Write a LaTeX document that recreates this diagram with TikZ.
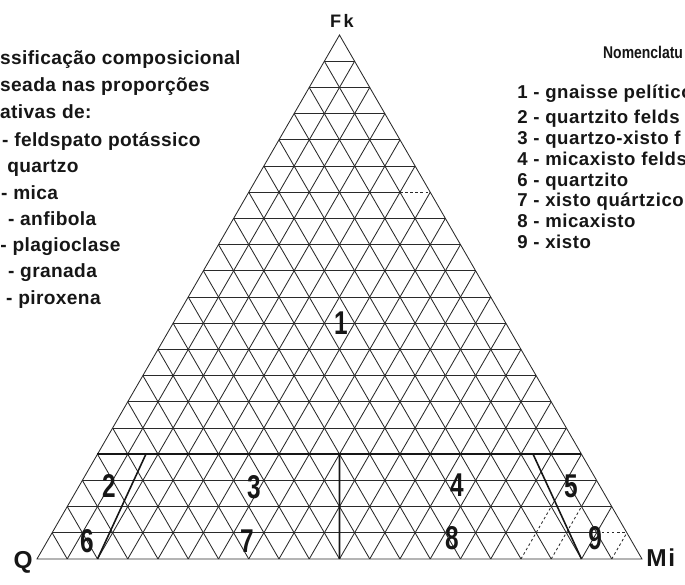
\documentclass[tikz,border=0pt]{standalone}
\usepackage{fontspec}
\setmainfont{Liberation Sans}
\newfontfamily\legsans[LetterSpace=2]{Liberation Sans}
\newfontfamily\listsans[LetterSpace=3]{Liberation Sans}
\newfontfamily\narrowsans[FakeStretch=0.74]{Liberation Sans}
\newfontfamily\tagsans[FakeStretch=0.82]{Liberation Sans}
\usetikzlibrary{calc}
\definecolor{ink}{HTML}{161616}
\definecolor{gridink}{HTML}{2A2A2A}
\tikzset{
  gridline/.style={draw=gridink, line width=0.8pt},
  gridfaint/.style={gridline, dash pattern=on 2.4pt off 2.4pt},
  fieldline/.style={draw=ink, line width=1.5pt},
  %
  fieldnum/.style={font=\narrowsans\bfseries\fontsize{31}{31}\selectfont,
                   text=ink, inner sep=0pt},
  corner/.style={font=\bfseries\fontsize{23}{23}\selectfont, text=ink, inner sep=0pt},
  legend/.style={font=\legsans\bfseries\fontsize{18}{20}\selectfont, text=ink,
                 anchor=base west, inner sep=0pt},
  namelist/.style={legend, font=\listsans\bfseries\fontsize{17.5}{20}\selectfont},
  heading/.style={font=\tagsans\bfseries\fontsize{16}{16}\selectfont, text=ink,
                  anchor=base west, inner sep=0pt},
}
\begin{document}
\begin{tikzpicture}[x=1cm, y=1cm]
  \useasboundingbox (-1.223,-0.860) rectangle (21.422,18.479);
  \clip (-1.223,-0.860) rectangle (21.422,18.479);

  % --- corners ------------------------------------------------------------
  \coordinate (Q)  at (0,0);
  \coordinate (Mi) at (20,0);
  \coordinate (Fk) at (10,17.3205);

  % --- 5% grid ------------------------------------------------------------
  \foreach \k in {2,...,13,15,16,17,18,19}
    \draw[gridline] ({\k/2},{\k*0.8660254}) -- ({20-\k/2},{\k*0.8660254});
  \draw[gridline]  (0.5,0.8660254) -- (18.5,0.8660254);
  \draw[gridfaint] (18.5,0.8660254) -- (19.5,0.8660254);
  \draw[gridline]  (7,12.124356) -- (12,12.124356);
  \draw[gridfaint] (12,12.124356) -- (13,12.124356);

  \foreach \k in {1,...,19}
    \draw[gridline] (\k,0) -- ({\k/2},{\k*0.8660254});

  \foreach \k in {1,...,15,18}
    \draw[gridline] (\k,0) -- ({10+\k/2},{(20-\k)*0.8660254});
  \draw[gridfaint] (16,0) -- (17,1.7320508);
  \draw[gridline]  (17,1.7320508) -- (18,3.4641016);
  \draw[gridfaint] (17,0) -- (18,1.7320508);
  \draw[gridline]  (18,1.7320508) -- (18.5,2.5980762);
  \draw[gridfaint] (19,0) -- (19.5,0.8660254);

  \draw[gridline] (Q) -- (Mi) -- (Fk) -- cycle;

  % --- field boundaries ---------------------------------------------------
  \coordinate (b2) at ($(Q)!0.1!(Mi)$);
  \coordinate (b9) at ($(Q)!0.9!(Mi)$);
  \coordinate (bm) at ($(Q)!0.5!(Mi)$);
  \coordinate (l20) at ($(Q)!0.2!(Fk)$);
  \coordinate (r20) at ($(Mi)!0.2!(Fk)$);
  \coordinate (t2) at ($(b2)!0.2!(Fk)$);
  \coordinate (t9) at ($(b9)!0.2!(Fk)$);
  \coordinate (tm) at ($(bm)!0.2!(Fk)$);

  \draw[fieldline] (l20) -- (r20);
  \draw[fieldline] (b2) -- (t2);
  \draw[fieldline] (b9) -- (t9);
  \draw[fieldline] (bm) -- (tm);

  % --- fields -------------------------------------------------------------
  \node[fieldnum] (f1) at (10.05,7.80) {1};
  \node[fieldnum] (f2) at (2.38,2.41)  {2};
  \node[fieldnum] (f3) at (7.17,2.38)  {3};
  \node[fieldnum] (f4) at (13.88,2.45) {4};
  \node[fieldnum] (f5) at (17.65,2.41) {5};
  \node[fieldnum] (f6) at (1.65,0.58)  {6};
  \node[fieldnum] (f7) at (6.94,0.60)  {7};
  \node[fieldnum] (f8) at (13.72,0.70) {8};
  \node[fieldnum] (f9) at (18.45,0.70) {9};

  % --- corner labels ------------------------------------------------------
  \node[corner, font=\bfseries\fontsize{17}{17}\selectfont] (fklbl)
    at (10.08,17.79) {F\kern2.5pt k};
  \node[corner] (qlbl)  at (-0.46,-0.10) {Q};
  \node[corner] (milbl) at (20.62,0.03)  {M\kern1.5pt i};

  % --- left legend --------------------------------------------------------
  \node[legend] (leg1)  at (-1.223,16.33) {ssificação composicional};
  \node[legend] (leg2)  at (-1.223,15.44) {seada nas proporções};
  \node[legend] (leg3)  at (-1.223,14.55) {ativas de:};
  \node[legend] (leg4)  at (-1.157,13.65) {- feldspato potássico};
  \node[legend] (leg5)  at (-0.990,12.76) {quartzo};
  \node[legend] (leg6)  at (-1.190,11.90) {- mica};
  \node[legend] (leg7)  at (-0.960,11.01) {- anfibola};
  \node[legend] (leg8)  at (-1.215,10.15) {- plagioclase};
  \node[legend] (leg9)  at (-0.960,9.29)  {- granada};
  \node[legend] (leg10) at (-1.025,8.40)  {- piroxena};

  % --- right legend -------------------------------------------------------
  \node[heading] (nom) at (18.71,16.56) {Nomenclatu};
  \node[namelist] (n1) at (15.87,15.23) {1 - gnaisse pelítico};
  \node[namelist] (n2) at (15.87,14.40) {2 - quartzito felds};
  \node[namelist] (n3) at (15.87,13.69) {3 - quartzo-xisto f};
  \node[namelist] (n4) at (15.87,13.02) {4 - micaxisto felds};
  \node[namelist] (n6) at (15.87,12.31) {6 - quartzito};
  \node[namelist] (n7) at (15.87,11.64) {7 - xisto quártzico};
  \node[namelist] (n8) at (15.87,10.95) {8 - micaxisto};
  \node[namelist] (n9) at (15.87,10.25) {9 - xisto};

\end{tikzpicture}
\end{document}
